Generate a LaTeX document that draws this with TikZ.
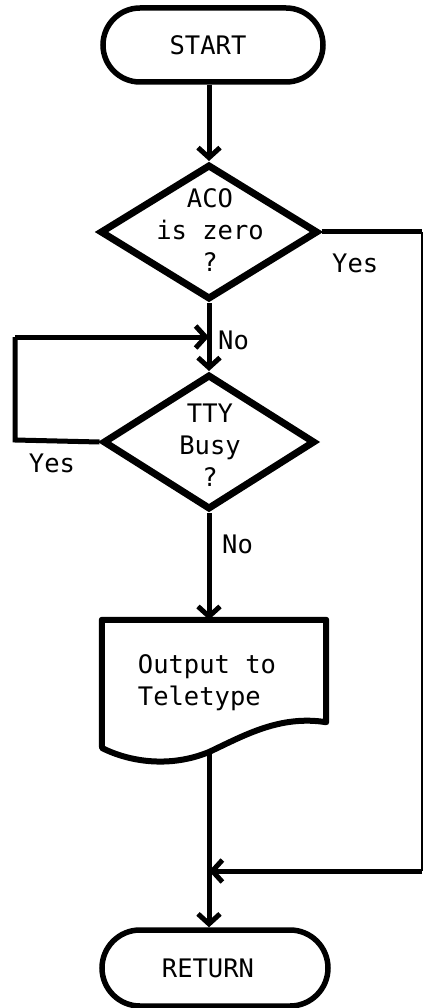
\documentclass[tikz,border=0pt]{standalone}
\usepackage{fontspec}
\setmonofont{DejaVu Sans Mono}
\usetikzlibrary{arrows.meta,shapes.geometric,shapes.misc}
\tikzset{
  txt/.style={font=\ttfamily\fontsize{25.5}{32}\selectfont, inner sep=0pt},
  term/.style={rounded rectangle, draw, line width=5.5pt, minimum width=220pt, minimum height=74pt, inner sep=0pt},
  dec/.style={diamond, draw, line width=7pt, inner sep=0pt},
  conn/.style={line width=5pt, line join=miter},
  arr/.style={conn, -{Straight Barb[length=10pt,width=22pt,line width=5pt]}},
  thin conn/.style={line width=2.5pt},
}
\begin{document}
\begin{tikzpicture}[x=1pt,y=-1pt]
\useasboundingbox (0,0) rectangle (425,1008);
% terminals
\node[term] (start) at (213,45) {};
\node[txt] at (208,45) {START};
\node[term, minimum width=226pt, minimum height=76pt] (ret) at (215,968) {};
\node[txt] at (208,968) {RETURN};
% decisions
\node[dec, minimum width=218pt, minimum height=135pt] (d1) at (209,232) {};
\node[txt, align=center] at (210,230) {ACO\\is zero\\?};
\node[dec, minimum width=212pt, minimum height=135pt] (d2) at (209,442) {};
\node[txt, align=center] at (210,445) {TTY\\Busy\\?};
% document
\node[minimum width=224pt, minimum height=102pt, inner sep=0pt] (doc) at (214,671) {};
\draw[line width=6pt, line join=round]
  (doc.north west) -- (doc.north east) -- (doc.south east)
  .. controls (280,715) and (245,735) .. (209,752)
  .. controls (170,768) and (130,762) .. (102,748) -- cycle;
\coordinate (docb) at (209,752);
\node[txt, align=left] at (207,683) {Output to\\Teletype};
% junction coordinates
\coordinate (j1) at (209,337);
\coordinate (j2) at (209,871);
\coordinate (r1) at (422,232);
\coordinate (r2) at (422,871);
\coordinate (l1) at (15,440);
\coordinate (l2) at (15,337);
% connectors
\draw[arr] (start.south -| d1.north) -- (d1.north);
\draw[arr] (d1.south) -- (d2.north);
\draw[conn] (d2.west) -- (l1) -- (l2);
\draw[arr] (l2) -- (j1);
\draw[arr] (d2.south) -- (d2.south |- doc.north);
\draw[arr] (docb) -- (docb |- ret.north);
\draw[conn] (d1.east) -- (r1);
\draw[thin conn] (r1) -- (r2);
\draw[conn] (r2) -- (r2 -| j2);
\draw[conn, -{Straight Barb[length=10pt,width=22pt,line width=5pt]}] (260,871) -- (j2);
% labels
\node[txt, anchor=west] at (332,263) {Yes};
\node[txt, anchor=west] at (218,340) {No};
\node[txt] at (52,463) {Yes};
\node[txt, anchor=west] at (222,544) {No};
\end{tikzpicture}
\end{document}
